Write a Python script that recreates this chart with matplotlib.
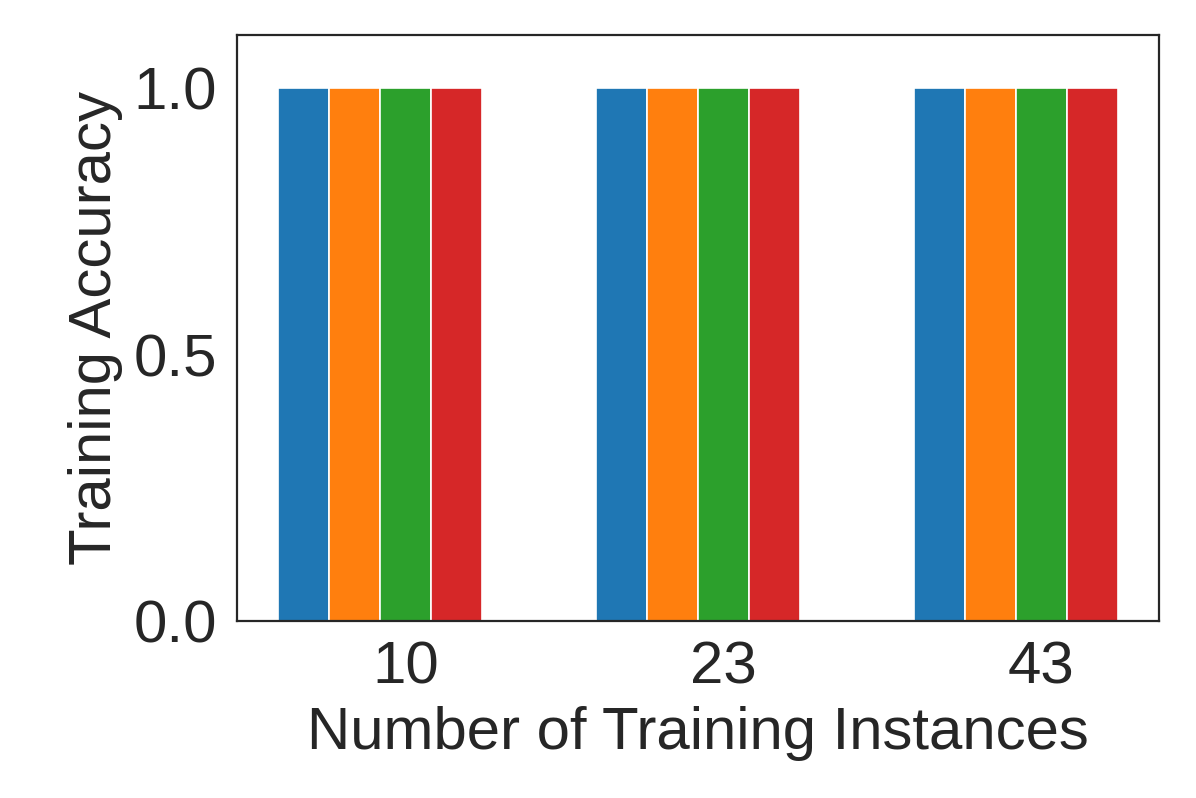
import numpy as np
import matplotlib
matplotlib.use("Agg")
import matplotlib.pyplot as plt
import seaborn as sns

# Data
instances = ['10', '23', '43']
series = [
    [1.0, 1.0, 1.0],
    [1.0, 1.0, 1.0],
    [1.0, 1.0, 1.0],
    [1.0, 1.0, 1.0],
]
colors = ['#1f77b4', '#ff7f0e', '#2ca02c', '#d62728']

sns.set_style('white')
plt.rcParams['font.family'] = ['Liberation Sans', 'DejaVu Sans']

fig, ax = plt.subplots(figsize=(5.98, 3.99), dpi=200)
x = np.arange(len(instances))
w = 0.16
for i, vals in enumerate(series):
    ax.bar(x + (i - 1.5) * w, vals, width=w, color=colors[i], edgecolor='white', linewidth=0.6)

ax.set_xticks(x + w / 2)
ax.set_xticklabels(instances)
ax.set_yticks([0.0, 0.5, 1.0])
ax.set_ylim(0, 1.1)
ax.set_xlim(-0.45, 2.45)
ax.tick_params(labelsize=21.6, length=0)
ax.tick_params(axis='y', pad=7)
ax.tick_params(axis='x', pad=7)
ax.set_xlabel('Number of Training Instances', fontsize=21.6, color='#262626', labelpad=4)
ax.set_ylabel('Training Accuracy', fontsize=21.6, color='#262626', labelpad=4)
for s in ax.spines.values():
    s.set_color('#262626')
    s.set_linewidth(0.8)
for lab in ax.get_xticklabels() + ax.get_yticklabels():
    lab.set_color('#262626')

fig.subplots_adjust(left=0.198, right=0.969, top=0.956, bottom=0.222)
fig.savefig('out.png', dpi=200)
